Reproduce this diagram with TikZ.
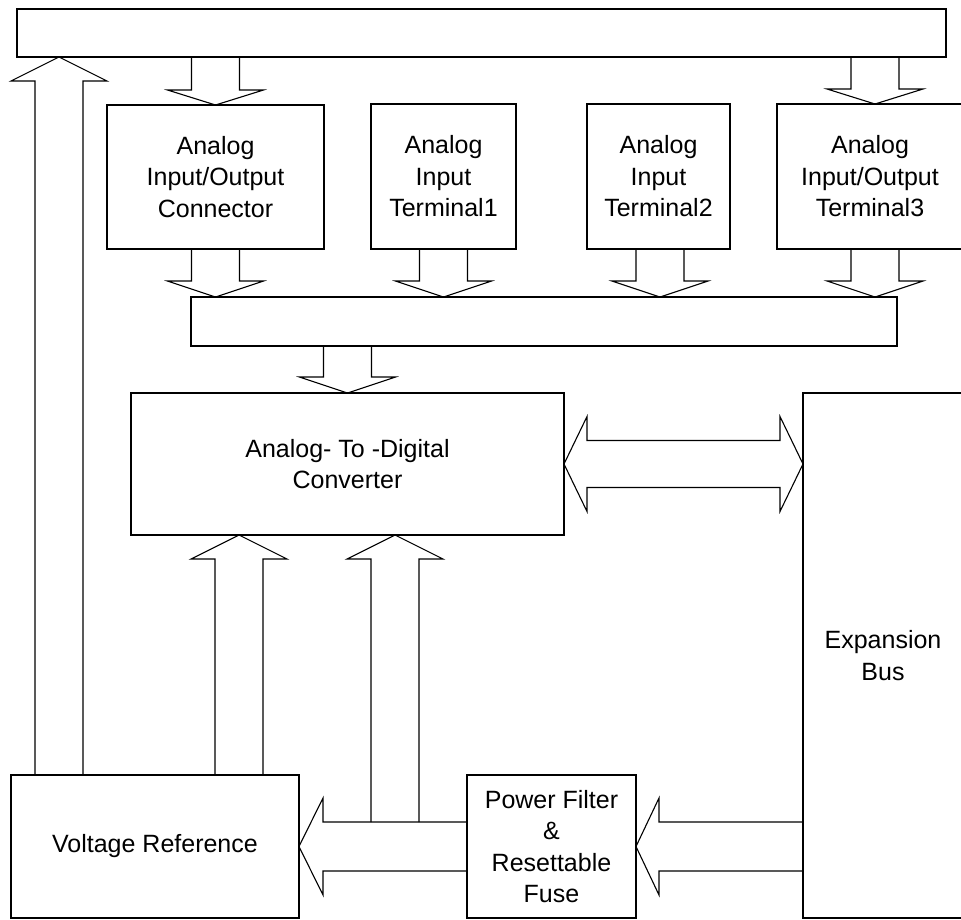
\documentclass[tikz,border=0pt]{standalone}
\usepackage{fontspec}
\setmainfont{Liberation Sans}
\usetikzlibrary{calc}
\newcommand{\varrow}[3]{%
  \draw[arr] let \p1=(#1), \p2=(#2), \n1={sign(\y2-\y1)*#3} in
    (\x1-24pt,\y1) -- (\x1-24pt,{\y2-\n1*1pt}) -- (\x1-48pt,{\y2-\n1*1pt}) -- (\x1,\y2)
    -- (\x1+48pt,{\y2-\n1*1pt}) -- (\x1+24pt,{\y2-\n1*1pt}) -- (\x1+24pt,\y1);}
\newcommand{\harrow}[3]{%
  \draw[arr] let \p1=(#1), \p2=(#2), \n1={sign(\x2-\x1)*#3} in
    (\x1,\y1+24.5pt) -- ({\x2-\n1*1pt},\y1+24.5pt) -- ({\x2-\n1*1pt},\y1+48.5pt) -- (\x2,\y1)
    -- ({\x2-\n1*1pt},\y1-48.5pt) -- ({\x2-\n1*1pt},\y1-24.5pt) -- (\x1,\y1-24.5pt);}
\begin{document}
\begin{tikzpicture}[x=1pt,y=-1pt,
  box/.style={draw, line width=1.1pt, inner sep=0pt, outer sep=0pt, anchor=north west,
    align=center, font=\fontsize{25}{31.5}\selectfont},
  arr/.style={line width=1.1pt, line join=miter}]
\useasboundingbox (0,0) rectangle (961,919);
\clip (0,0) rectangle (961,919);
\fill[white] (0,0) rectangle (961,919);
% boxes
\node[box, minimum width=929pt, minimum height=48pt] (topbar) at (17,9) {};
\node[box, minimum width=217pt, minimum height=144pt] (aio) at (107,105) {Analog\\Input/Output\\Connector};
\node[box, minimum width=145pt, minimum height=145pt] (t1) at (371,104) {Analog\\Input\\Terminal1};
\node[box, minimum width=143pt, minimum height=145pt] (t2) at (587,104) {Analog\\Input\\Terminal2};
\node[box, minimum width=186pt, minimum height=145pt] (t3) at (777,104) {Analog\\Input/Output\\Terminal3};
\node[box, minimum width=706pt, minimum height=49pt] (midbar) at (191,297) {};
\node[box, minimum width=433pt, minimum height=142pt] (adc) at (131,393) {Analog- To -Digital\\Converter};
\node[box, minimum width=160pt, minimum height=525pt] (exp) at (803,393) {Expansion\\Bus};
\node[box, minimum width=288pt, minimum height=143pt] (vr) at (11,775) {Voltage Reference};
\node[box, minimum width=169pt, minimum height=143pt] (pf) at (467,775) {Power Filter\\\&\\Resettable\\Fuse};
% x positions of arrows
\coordinate (x0) at (59,0);
\coordinate (x2) at (660,0);
\coordinate (x3) at (875,0);
\coordinate (x9) at (239,0);
\coordinate (x10) at (395,0);
\coordinate (pfup) at ($(pf.west)+(0,24.5pt)$);
% arrows
\varrow{topbar.south -| aio.north}{aio.north}{15}
\varrow{topbar.south -| x3}{t3.north -| x3}{15}
\varrow{vr.north -| x0}{topbar.south -| x0}{24}
\varrow{aio.south}{midbar.north -| aio.south}{16}
\varrow{t1.south}{midbar.north -| t1.south}{16}
\varrow{t2.south -| x2}{midbar.north -| x2}{16}
\varrow{t3.south -| x3}{midbar.north -| x3}{16}
\varrow{midbar.south -| adc.north}{adc.north}{16}
\varrow{vr.north -| x9}{adc.south -| x9}{24}
\varrow{pfup -| x10}{adc.south -| x10}{24}
\harrow{pf.west}{vr.east |- pf.west}{24}
\harrow{exp.west |- pf.east}{pf.east}{23}
\draw[arr] let \p1=(adc.east), \p2=(exp.west |- adc.east) in
  (\x1,\y1) -- (\x1+23pt,\y1+47.5pt) -- (\x1+23pt,\y1+23.5pt) -- (\x2-23pt,\y1+23.5pt)
  -- (\x2-23pt,\y1+47.5pt) -- (\x2,\y1) -- (\x2-23pt,\y1-47.5pt) -- (\x2-23pt,\y1-23.5pt)
  -- (\x1+23pt,\y1-23.5pt) -- (\x1+23pt,\y1-47.5pt) -- cycle;
\end{tikzpicture}
\end{document}
